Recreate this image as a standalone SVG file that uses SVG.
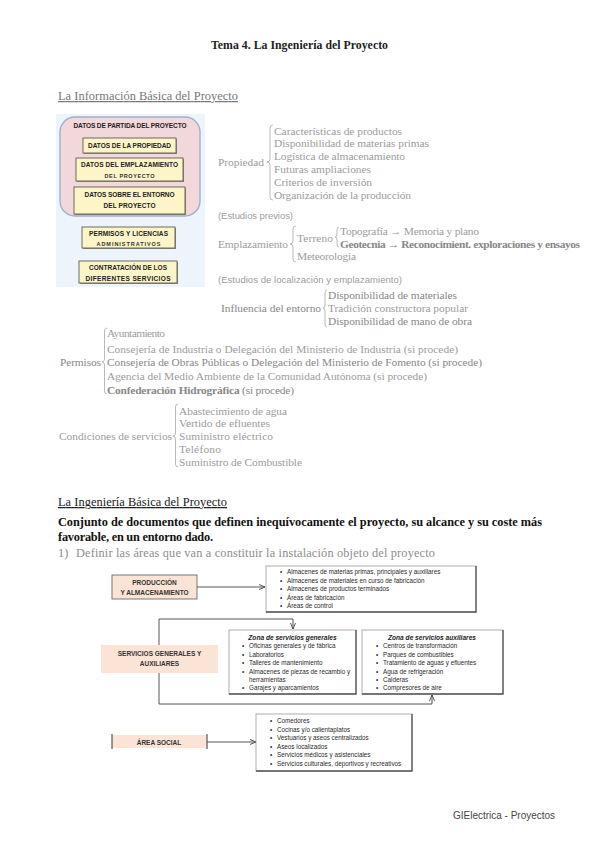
<svg xmlns="http://www.w3.org/2000/svg" width="599" height="848" viewBox="0 0 599 848">
<defs>
<style>
.t{font-family:"Liberation Serif",serif;font-size:11.8px;font-weight:bold;fill:#1e1e1e}
.h{font-family:"Liberation Serif",serif;font-size:12.4px;text-decoration:underline}
.g{font-family:"Liberation Serif",serif;font-size:11.4px;fill:#9c9c9c}
.gd{font-family:"Liberation Serif",serif;font-size:11.4px;fill:#878787}
.gs{font-family:"Liberation Sans",sans-serif;font-size:9.5px;fill:#9c9c9c}
.b{font-family:"Liberation Serif",serif;font-size:12.3px;font-weight:bold;fill:#111}
.yb{font-family:"Liberation Sans",sans-serif;font-size:6.5px;font-weight:bold;fill:#222;text-anchor:middle}
.ys{font-family:"Liberation Sans",sans-serif;font-size:5.5px;font-weight:bold;fill:#333;text-anchor:middle}
.li{font-family:"Liberation Sans",sans-serif;font-size:6.3px;fill:#2a2a2a}
.lt{font-family:"Liberation Sans",sans-serif;font-size:6.6px;font-weight:bold;font-style:italic;fill:#222;text-anchor:middle}
.bx{font-family:"Liberation Sans",sans-serif;font-size:6.5px;font-weight:bold;fill:#333;text-anchor:middle}
.br{fill:none;stroke:#a8a8a8;stroke-width:0.8}
.yel{fill:#fdf5c8;stroke:#5e5e52;stroke-width:0.9}
.pch{fill:#fbe4d5}
.lb{fill:#fff;stroke:#9a9a9a;stroke-width:0.8}
.sh{fill:none;stroke:#555;stroke-width:1.3}
.cn{fill:none;stroke:#444;stroke-width:0.9}
</style>
<marker id="ar" viewBox="0 0 6 6" refX="6" refY="3" markerWidth="6" markerHeight="6" orient="auto" markerUnits="userSpaceOnUse">
<path d="M0,0.5 L6,3 L0,5.5" fill="none" stroke="#444" stroke-width="0.9"/>
</marker>
</defs>
<rect width="599" height="848" fill="#fff"/>

<text class="t" x="211" y="49" textLength="177">Tema 4. La Ingeniería del Proyecto</text>
<text class="h" x="58" y="100" textLength="180" fill="#777">La Información Básica del Proyecto</text>

<g id="datos-partida">
<rect x="56" y="114" width="149" height="173" fill="#eef4fb"/>
<rect x="60" y="117" width="140" height="99" rx="15" fill="#f2d7db" stroke="#9db1cc" stroke-width="1.4"/>
<text class="yb" x="130" y="127.5" textLength="113">DATOS DE PARTIDA DEL PROYECTO</text>
<rect x="84" y="139" width="93" height="15" fill="#8a8a80"/>
<rect class="yel" x="83" y="138" width="93" height="15"/>
<text class="yb" x="129.5" y="148" textLength="83">DATOS DE LA PROPIEDAD</text>
<rect x="77" y="159" width="107" height="23" fill="#8a8a80"/>
<rect class="yel" x="76" y="158" width="107" height="23"/>
<text class="yb" x="129.5" y="167" textLength="97">DATOS DEL EMPLAZAMIENTO</text>
<text class="ys" x="129.5" y="177.5" textLength="50">DEL PROYECTO</text>
<rect x="75" y="188" width="111" height="27" fill="#8a8a80"/>
<rect class="yel" x="74" y="187" width="111" height="27"/>
<text class="yb" x="129.5" y="197" textLength="90">DATOS SOBRE EL ENTORNO</text>
<text class="yb" x="129.5" y="208" textLength="52">DEL PROYECTO</text>
<rect x="83" y="228" width="93" height="21" fill="#8a8a80"/>
<rect class="yel" x="82" y="227" width="93" height="21"/>
<text class="yb" x="128.5" y="236" textLength="79">PERMISOS Y LICENCIAS</text>
<text class="ys" x="128.5" y="245.5" textLength="64">ADMINISTRATIVOS</text>
<rect x="80" y="262" width="98" height="22" fill="#8a8a80"/>
<rect class="yel" x="79" y="261" width="98" height="22"/>
<text class="yb" x="128" y="270" textLength="78">CONTRATACIÓN DE LOS</text>
<text class="yb" x="128" y="280.5" textLength="85">DIFERENTES SERVICIOS</text>
</g>

<g id="propiedad">
<text class="g" x="218" y="166" textLength="46">Propiedad</text>
<path class="br" d="M273,125 Q270,125 270,128 L270,159 Q270,162 267,162 Q270,162 270,165 L270,197 Q270,200 273,200"/>
<text class="g" x="274" y="134.5" textLength="128">Características de productos</text>
<text class="g" x="274" y="147" textLength="155">Disponibilidad de materias primas</text>
<text class="g" x="274" y="160" textLength="131">Logística de almacenamiento</text>
<text class="g" x="274" y="173" textLength="97">Futuras ampliaciones</text>
<text class="g" x="274" y="186" textLength="98">Criterios de inversión</text>
<text class="g" x="274" y="199" textLength="137">Organización de la producción</text>
</g>

<g id="emplazamiento">
<text class="gs" x="218" y="219" textLength="75">(Estudios previos)</text>
<text class="g" x="218" y="247.5" textLength="70">Emplazamiento</text>
<path class="br" d="M296,226 Q293,226 293,229 L293,241 Q293,244 290,244 Q293,244 293,247 L293,259 Q293,262 296,262"/>
<text class="g" x="297" y="241.5" textLength="36">Terreno</text>
<path class="br" d="M339,227 Q337,227 337,230 L337,234 Q337,237 335,237 Q337,237 337,240 L337,244 Q337,247 339,247"/>
<text class="g" x="340" y="235" textLength="139">Topografía → Memoria y plano</text>
<text class="gd" x="340" y="247.5" textLength="240" font-weight="bold">Geotecnia → Reconocimient. exploraciones y ensayos</text>
<text class="g" x="297" y="260" textLength="59">Meteorología</text>
<text class="gs" x="218" y="283" textLength="184">(Estudios de localización y emplazamiento)</text>
</g>

<g id="influencia">
<text class="gd" x="221" y="312" textLength="100">Influencia del entorno</text>
<path class="br" d="M327,290 Q325,290 325,293 L325,305 Q325,308 323,308 Q325,308 325,311 L325,324 Q325,327 327,327"/>
<text class="gd" x="328" y="299" textLength="129">Disponibilidad de materiales</text>
<text class="g" x="328" y="312" textLength="140">Tradición constructora popular</text>
<text class="gd" x="328" y="325" textLength="144">Disponibilidad de mano de obra</text>
</g>

<g id="permisos">
<text class="gd" x="60" y="366" textLength="41">Permisos</text>
<path class="br" d="M107,328 Q104.5,328 104.5,331 L104.5,359 Q104.5,362 102,362 Q104.5,362 104.5,365 L104.5,391 Q104.5,394 107,394"/>
<text class="g" x="107" y="337" textLength="58">Ayuntamiento</text>
<text class="g" x="107" y="352.5" textLength="351">Consejería de Industria o Delegación del Ministerio de Industria (si procede)</text>
<text class="gd" x="107" y="366" textLength="375">Consejería de Obras Públicas o Delegación del Ministerio de Fomento (si procede)</text>
<text class="g" x="107" y="379.5" textLength="320">Agencia del Medio Ambiente de la Comunidad Autónoma (si procede)</text>
<text class="gd" x="107" y="393.5" textLength="187"><tspan font-weight="bold">Confederación Hidrográfica</tspan> (si procede)</text>
</g>

<g id="condiciones">
<text class="g" x="59" y="439.5" textLength="113">Condiciones de servicios</text>
<path class="br" d="M178,404 Q175.5,404 175.5,407 L175.5,433 Q175.5,436 173,436 Q175.5,436 175.5,439 L175.5,464 Q175.5,467 178,467"/>
<text class="g" x="179" y="414.5" textLength="108">Abastecimiento de agua</text>
<text class="g" x="179" y="427" textLength="91">Vertido de efluentes</text>
<text class="g" x="179" y="440" textLength="94">Suministro eléctrico</text>
<text class="g" x="179" y="453" textLength="42">Teléfono</text>
<text class="g" x="179" y="465.5" textLength="123">Suministro de Combustible</text>
</g>

<text class="h" x="58" y="506" textLength="169" fill="#1a1a1a">La Ingeniería Básica del Proyecto</text>
<text class="b" x="58" y="526" textLength="484">Conjunto de documentos que definen inequívocamente el proyecto, su alcance y su coste más</text>
<text class="b" x="58" y="541" textLength="155">favorable, en un entorno dado.</text>
<text x="58" y="557" font-family="Liberation Serif, serif" font-size="12.3" fill="#8d8d8d">1)</text>
<text x="76" y="557" font-family="Liberation Serif, serif" font-size="12.3" fill="#8d8d8d" textLength="359">Definir las áreas que van a constituir la instalación objeto del proyecto</text>

<g id="connectors">
<line class="cn" x1="197" y1="587" x2="265" y2="587" marker-end="url(#ar)"/>
<polyline class="cn" points="159,645 159,619 293,619 293,629" marker-end="url(#ar)"/>
<polyline class="cn" points="159,673 159,704 432,704 432,695" marker-end="url(#ar)"/>
<line class="cn" x1="207" y1="742" x2="256" y2="742" marker-end="url(#ar)"/>
</g>

<g id="produccion">
<rect class="pch" x="112" y="575" width="85" height="24" stroke="#6a6a6a" stroke-width="0.9"/>
<text class="bx" x="154.5" y="584.5">PRODUCCIÓN</text>
<text class="bx" x="154.5" y="594.5">Y ALMACENAMIENTO</text>
</g>

<g id="lista-produccion">
<rect class="lb" x="266" y="566" width="210" height="46"/>
<polyline class="sh" points="476,566 476,612 266,612"/>
<g class="li">
<text x="280" y="574">•</text><text x="287" y="574">Almacenes de materias primas, principales y auxiliares</text>
<text x="280" y="582.5">•</text><text x="287" y="582.5">Almacenes de materiales en curso de fabricación</text>
<text x="280" y="591">•</text><text x="287" y="591">Almacenes de productos terminados</text>
<text x="280" y="599.5">•</text><text x="287" y="599.5">Áreas de fabricación</text>
<text x="280" y="608">•</text><text x="287" y="608">Áreas de control</text>
</g>
</g>

<g id="servicios">
<rect class="pch" x="101" y="645" width="117" height="28"/>
<text class="bx" x="159.5" y="655.5">SERVICIOS  GENERALES Y</text>
<text class="bx" x="159.5" y="666">AUXILIARES</text>
</g>

<g id="zona-generales">
<rect class="lb" x="229" y="630" width="127" height="64"/>
<polyline class="sh" points="356,630 356,694 229,694"/>
<text class="lt" x="292.5" y="639.5">Zona de servicios generales</text>
<g class="li">
<text x="242" y="648">•</text><text x="249" y="648">Oficinas generales y de fábrica</text>
<text x="242" y="656.5">•</text><text x="249" y="656.5">Laboratorios</text>
<text x="242" y="665">•</text><text x="249" y="665">Talleres de mantenimiento</text>
<text x="242" y="673.5">•</text><text x="249" y="673.5">Almacenes de piezas de recambio y</text>
<text x="249" y="681.5">herramientas</text>
<text x="242" y="690">•</text><text x="249" y="690">Garajes y aparcamientos</text>
</g>
</g>

<g id="zona-auxiliares">
<rect class="lb" x="362" y="630" width="141" height="64"/>
<polyline class="sh" points="503,630 503,694 362,694"/>
<text class="lt" x="432" y="639.5">Zona de servicios auxiliares</text>
<g class="li">
<text x="376" y="648">•</text><text x="383" y="648">Centros de transformación</text>
<text x="376" y="656.5">•</text><text x="383" y="656.5">Parques de combustibles</text>
<text x="376" y="665">•</text><text x="383" y="665">Tratamiento de aguas y efluentes</text>
<text x="376" y="673.5">•</text><text x="383" y="673.5">Agua de refrigeración</text>
<text x="376" y="682">•</text><text x="383" y="682">Calderas</text>
<text x="376" y="690">•</text><text x="383" y="690">Compresores de aire</text>
</g>
</g>

<g id="area-social">
<rect class="pch" x="112" y="735" width="95" height="13"/>
<line x1="112" y1="734" x2="112" y2="749" stroke="#555" stroke-width="1.2"/>
<line x1="207" y1="734" x2="207" y2="749" stroke="#555" stroke-width="1.2"/>
<text class="bx" x="159" y="744.5">ÁREA SOCIAL</text>
</g>

<g id="lista-social">
<rect class="lb" x="256" y="714" width="156" height="57"/>
<polyline class="sh" points="412,714 412,771 256,771"/>
<g class="li">
<text x="270" y="723">•</text><text x="277" y="723">Comedores</text>
<text x="270" y="731.5">•</text><text x="277" y="731.5">Cocinas y/o calientaplatos</text>
<text x="270" y="740">•</text><text x="277" y="740">Vestuarios y aseos centralizados</text>
<text x="270" y="748.5">•</text><text x="277" y="748.5">Aseos localizados</text>
<text x="270" y="757">•</text><text x="277" y="757">Servicios médicos y asistenciales</text>
<text x="270" y="765.5">•</text><text x="277" y="765.5">Servicios culturales, deportivos y recreativos</text>
</g>
</g>

<text x="453" y="819" font-family="Liberation Sans, sans-serif" font-size="10" fill="#444" textLength="102">GIElectrica - Proyectos</text>
</svg>
